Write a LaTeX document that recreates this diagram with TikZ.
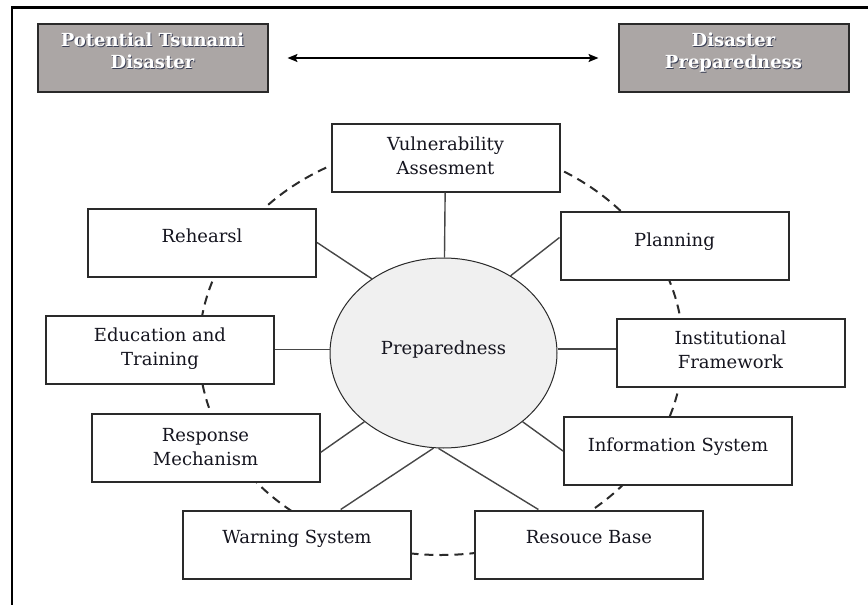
\documentclass[tikz,border=0pt]{standalone}
\usepackage{fontspec}
\setmainfont{DejaVu Serif}
\usetikzlibrary{arrows.meta,shapes.geometric,calc}

\definecolor{boxline}{HTML}{2A2A2A}
\definecolor{linkc}{HTML}{474747}
\definecolor{ink}{HTML}{15151F}
\definecolor{greyfill}{HTML}{ABA6A5}
\definecolor{circfill}{HTML}{F0F0F0}
\definecolor{shadowc}{HTML}{3A3F55}

% white heading text with a small dark drop shadow
\newcommand{\shd}[1]{\rlap{\hspace{0.9pt}\raisebox{-0.9pt}{\textcolor{shadowc}{#1}}}#1}

\begin{document}
\begin{tikzpicture}[x=1pt,y=-1pt,
  box/.style={draw=boxline, line width=2pt, fill=white, inner sep=0pt,
              minimum width=228pt, minimum height=68pt},
  greybox/.style={box, fill=greyfill, minimum width=230pt},
  lbl/.style={font=\fontsize{18}{23.5}\selectfont, text=ink, align=center,
              anchor=base, inner sep=0pt},
  glbl/.style={lbl, font=\bfseries\fontsize{18}{21.6}\selectfont, text=white},
  link/.style={draw=linkc, line width=1.4pt},
  ring/.style={draw=boxline, line width=2pt, dash pattern=on 9pt off 6pt},
  both/.style={line width=1.7pt, {Stealth[length=10pt,width=8pt,inset=2pt]}-{Stealth[length=10pt,width=8pt,inset=2pt]},
               shorten <=19pt, shorten >=19pt}
]
\useasboundingbox (0,0) rectangle (868,605);

% outer frame
\draw[line width=2.6pt, black] (12,605) -- (12,7.3) -- (868,7.3);

% heading boxes (multi-line labels are anchored on their last baseline)
\node[greybox] (g1) at (152.5,58) {};
\node[glbl] (g1-t) at ([yshift=-10.3pt]g1.center) {\shd{Potential Tsunami}\\\shd{Disaster}};
\node[greybox] (g2) at (733.5,58) {};
\node[glbl] (g2-t) at ([yshift=-10.3pt]g2.center) {\shd{Disaster}\\\shd{Preparedness}};
\draw[both] (g1.east) -- (g2.west);

% dashed ring linking the elements
\draw[ring] (441,349) ellipse [x radius=242, y radius=206];

% central element
\node[ellipse, draw=boxline, line width=1pt, fill=circfill, inner sep=0pt,
      minimum width=227pt, minimum height=190pt] (circ) at (443.5,353) {};
\node[lbl] (circ-t) at ([yshift=-1pt]circ.center) {Preparedness};

% surrounding elements
\node[box] (vul)  at (445.5,157.5) {};
\node[box] (reh)  at (202,242.5) {};
\node[box] (pla)  at (674.5,245.5) {};
\node[box] (edu)  at (160,349.5) {};
\node[box] (ins)  at (730.5,353) {};
\node[box] (resp) at (205.5,447.5) {};
\node[box] (inf)  at (678,451) {};
\node[box] (war)  at (297,544.5) {};
\node[box] (rsb)  at (589,544.5) {};

\node[lbl] (vul-t)  at ([yshift=-16.5pt]vul.center) {Vulnerability\\Assesment};
\node[lbl] (reh-t)  at ([yshift=0pt]reh.center)     {Rehearsl};
\node[lbl] (pla-t)  at ([yshift=-1pt]pla.center)    {Planning};
\node[lbl] (edu-t)  at ([yshift=-15.5pt]edu.center) {Education and\\Training};
\node[lbl] (ins-t)  at ([yshift=-15pt]ins.center)   {Institutional\\Framework};
\node[lbl] (resp-t) at ([yshift=-17.5pt]resp.center) {Response\\Mechanism};
\node[lbl] (inf-t)  at ([yshift=0pt]inf.center)     {Information System};
\node[lbl] (war-t)  at ([yshift=1.5pt]war.center)   {Warning System};
\node[lbl] (rsb-t)  at ([yshift=1.5pt]rsb.center)   {Resouce Base};

% spoke end points
\coordinate (insw) at ([yshift=4pt]ins.west);
\coordinate (respe) at ([yshift=-5pt]resp.east);
\coordinate (plaw) at ([yshift=8pt]pla.west);
\coordinate (wartop) at ($(war.north west)!0.69!(war.north east)$);
\coordinate (rsbtop) at ($(rsb.north west)!0.28!(rsb.north east)$);

% spokes
\draw[link] (circ) -- (vul);
\draw[link] (reh.east) -- (circ.134);
\draw[link] (plaw) -- (circ.49);
\draw[link] (edu.east) -- (edu.east -| circ.west);
\draw[link] (circ.east |- insw) -- (insw);
\draw[link] (respe) -- (circ.221);
\draw[link] (circ.319) -- (inf.west);
\draw[link] (wartop) -- (circ.264);
\draw[link] (circ.267) -- (rsbtop);
\end{tikzpicture}
\end{document}
